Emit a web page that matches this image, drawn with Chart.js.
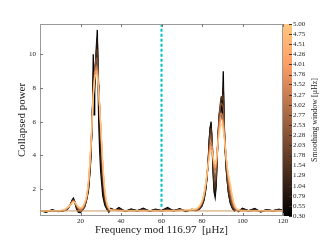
<!DOCTYPE html>
<html><head><meta charset="utf-8">
<script src="https://cdn.jsdelivr.net/npm/chart.js@4"></script>
<style>html,body{margin:0;padding:0;background:#fff}canvas{display:block}</style>
</head><body>
<canvas id="c" width="320" height="240"></canvas>
<script>
// Frequency mod 116.97 (µHz) sample positions
const freq = [
  0, 3, 6, 9, 12,
  13.5, 15, 16, 16.5, 17,
  18, 19, 20, 21, 22,
  23, 24, 25, 25.5, 26,
  26.3, 26.7, 27, 27.5, 28,
  28.3, 28.7, 29, 29.5, 30,
  31, 32, 33, 34, 35,
  37, 39, 42, 45, 48,
  51, 54, 57, 60, 63,
  66, 69, 72, 75, 77,
  78, 79, 80, 81, 82,
  83, 83.5, 84, 84.5, 85,
  85.5, 86, 86.5, 87, 87.5,
  88, 88.5, 89, 89.5, 90,
  90.5, 91, 92, 93, 94,
  95, 96, 97, 98, 100,
  103, 106, 109, 112, 115,
  118, 120
];
// Smoothing windows (µHz) of the plotted curves
const windows = [0.30, 0.79, 1.54, 2.28, 3.27, 4.01, 5.00];
const power030 = [
  0.72, 0.62, 0.78, 0.66, 0.74,
  0.80, 1.05, 1.38, 1.46, 1.30,
  0.85, 0.62, 0.60, 0.76, 0.92,
  1.35, 2.0, 3.6, 5.2, 7.0,
  10.0, 6.4, 7.8, 9.0, 10.6,
  11.45, 8.2, 6.0, 4.2, 3.0,
  1.6, 1.05, 0.8, 0.62, 0.85,
  0.74, 0.9, 0.66, 0.82, 0.7,
  0.86, 0.68, 0.8, 0.72, 0.9,
  0.7, 0.84, 0.66, 0.8, 0.72,
  0.76, 0.85, 1.0, 1.35, 2.1,
  3.5, 4.8, 5.6, 6.0, 4.5,
  2.9, 1.8, 1.5, 2.2, 3.9,
  5.2, 6.3, 6.6, 7.3, 6.1,
  9.0, 5.4, 3.1, 1.8, 1.15,
  0.85, 0.7, 0.82, 0.66, 0.86,
  0.7, 0.84, 0.64, 0.78, 0.7,
  0.8, 0.72
];
const power079 = [
  0.7, 0.66, 0.74, 0.68, 0.72,
  0.82, 1.08, 1.34, 1.40, 1.30,
  0.92, 0.68, 0.64, 0.78, 0.96,
  1.4, 2.1, 3.8, 5.1, 7.2,
  9.0, 7.8, 8.6, 9.6, 10.8,
  11.0, 9.0, 7.2, 5.4, 4.0,
  2.1, 1.2, 0.88, 0.68, 0.82,
  0.74, 0.84, 0.7, 0.78, 0.72,
  0.82, 0.7, 0.78, 0.72, 0.84,
  0.72, 0.8, 0.7, 0.78, 0.72,
  0.78, 0.88, 1.04, 1.4, 2.15,
  3.5, 4.7, 5.6, 5.8, 4.7,
  3.2, 2.0, 1.7, 2.4, 3.9,
  5.2, 6.4, 6.8, 7.4, 6.9,
  8.2, 5.6, 3.2, 1.9, 1.2,
  0.9, 0.74, 0.8, 0.7, 0.82,
  0.72, 0.8, 0.68, 0.76, 0.72,
  0.78, 0.72
];
const power154 = [
  0.71, 0.69, 0.72, 0.7, 0.73,
  0.84, 1.08, 1.3, 1.36, 1.28,
  0.98, 0.74, 0.68, 0.78, 0.98,
  1.4, 2.2, 3.9, 5.2, 7.0,
  8.3, 8.3, 9.0, 9.7, 10.3,
  10.2, 9.2, 7.9, 6.4, 5.0,
  2.6, 1.4, 0.95, 0.75, 0.8,
  0.74, 0.78, 0.72, 0.75, 0.72,
  0.78, 0.72, 0.75, 0.72, 0.78,
  0.73, 0.76, 0.72, 0.76, 0.74,
  0.8, 0.9, 1.08, 1.45, 2.2,
  3.5, 4.5, 5.4, 5.6, 4.8,
  3.6, 2.4, 2.1, 2.7, 4.0,
  5.4, 6.4, 7.0, 7.5, 7.3,
  7.6, 5.8, 3.4, 2.0, 1.35,
  0.95, 0.78, 0.78, 0.7, 0.78,
  0.72, 0.75, 0.7, 0.74, 0.72,
  0.75, 0.72
];
const power228 = [
  0.71, 0.7, 0.71, 0.7, 0.74,
  0.86, 1.07, 1.27, 1.32, 1.27,
  1.02, 0.8, 0.72, 0.8, 1.02,
  1.45, 2.3, 4.0, 5.3, 6.8,
  7.8, 8.4, 9.0, 9.5, 9.8,
  9.6, 8.9, 8.0, 6.8, 5.4,
  3.0, 1.6, 1.0, 0.78, 0.76,
  0.73, 0.75, 0.72, 0.73, 0.72,
  0.75, 0.72, 0.73, 0.72, 0.75,
  0.73, 0.74, 0.72, 0.75, 0.76,
  0.82, 0.94, 1.15, 1.55, 2.3,
  3.5, 4.3, 5.0, 5.2, 4.7,
  3.8, 2.9, 2.6, 3.0, 4.1,
  5.3, 6.2, 6.8, 7.1, 7.0,
  6.8, 5.6, 3.6, 2.3, 1.6,
  1.1, 0.85, 0.78, 0.72, 0.74,
  0.72, 0.73, 0.71, 0.72, 0.72,
  0.73, 0.72
];
const power327 = [
  0.71, 0.71, 0.71, 0.71, 0.75,
  0.88, 1.06, 1.24, 1.28, 1.25,
  1.06, 0.86, 0.78, 0.85, 1.1,
  1.5, 2.4, 4.2, 5.4, 6.7,
  7.6, 8.3, 8.8, 9.2, 9.3,
  9.1, 8.6, 7.9, 6.8, 5.6,
  3.3, 1.8, 1.1, 0.82, 0.75,
  0.73, 0.73, 0.72, 0.72, 0.72,
  0.73, 0.72, 0.72, 0.72, 0.73,
  0.72, 0.73, 0.73, 0.76, 0.78,
  0.85, 0.98, 1.22, 1.65, 2.4,
  3.5, 4.1, 4.6, 4.8, 4.5,
  3.9, 3.3, 3.1, 3.4, 4.2,
  5.1, 5.8, 6.3, 6.5, 6.4,
  6.0, 5.3, 3.8, 2.6, 1.9,
  1.3, 0.95, 0.8, 0.74, 0.72,
  0.72, 0.72, 0.72, 0.72, 0.72,
  0.72, 0.72
];
const power401 = [
  0.71, 0.71, 0.72, 0.71, 0.76,
  0.89, 1.05, 1.21, 1.25, 1.23,
  1.08, 0.9, 0.84, 0.9, 1.15,
  1.55, 2.5, 4.3, 5.45, 6.7,
  7.5, 8.2, 8.65, 9.0, 9.05,
  8.85, 8.4, 7.8, 6.8, 5.7,
  3.45, 1.9, 1.15, 0.85, 0.75,
  0.73, 0.72, 0.72, 0.72, 0.72,
  0.72, 0.72, 0.72, 0.72, 0.72,
  0.72, 0.73, 0.74, 0.78, 0.8,
  0.88, 1.02, 1.26, 1.7, 2.45,
  3.45, 3.95, 4.35, 4.55, 4.35,
  3.9, 3.45, 3.3, 3.55, 4.2,
  4.95, 5.55, 6.0, 6.15, 6.1,
  5.75, 5.15, 3.8, 2.75, 2.1,
  1.45, 1.02, 0.82, 0.75, 0.72,
  0.72, 0.72, 0.72, 0.72, 0.72,
  0.72, 0.72
];
const power500 = [
  0.71, 0.71, 0.72, 0.72, 0.78,
  0.9, 1.05, 1.19, 1.24, 1.22,
  1.1, 0.95, 0.9, 0.95, 1.2,
  1.6, 2.6, 4.4, 5.5, 6.7,
  7.4, 8.1, 8.5, 8.8, 8.8,
  8.6, 8.2, 7.7, 6.8, 5.8,
  3.6, 2.0, 1.2, 0.88, 0.76,
  0.74, 0.72, 0.72, 0.72, 0.72,
  0.72, 0.72, 0.72, 0.72, 0.72,
  0.72, 0.73, 0.75, 0.8, 0.82,
  0.9, 1.05, 1.3, 1.75, 2.5,
  3.4, 3.8, 4.15, 4.3, 4.2,
  3.9, 3.6, 3.5, 3.7, 4.2,
  4.8, 5.3, 5.7, 5.85, 5.8,
  5.5, 5.0, 3.8, 2.9, 2.3,
  1.6, 1.1, 0.85, 0.76, 0.72,
  0.72, 0.72, 0.72, 0.72, 0.72,
  0.72, 0.72
];
const curves = [power030, power079, power154, power228, power327, power401, power500];
const noiseLevel = 0.70;
const markerFreq = 60;
const markerRange = [0.95, 11.8];
const xTicks = [20, 40, 60, 80, 100, 120];
const yTicks = [2, 4, 6, 8, 10];
const cbTicks = [0.30, 0.55, 0.79, 1.04, 1.29, 1.54, 1.78, 2.03, 2.28, 2.53,
                 2.77, 3.02, 3.27, 3.52, 3.76, 4.01, 4.26, 4.51, 4.75, 5.00];
const wMin = 0.30, wMax = 5.00;

function copper(w) {
  const t = (w - wMin) / (wMax - wMin);
  const r = Math.min(1, 1.25 * t), g = 0.7812 * t, b = 0.4975 * t;
  return `rgb(${Math.round(r*255)},${Math.round(g*255)},${Math.round(b*255)})`;
}

const datasets = [];
curves.forEach((arr, i) => {
  datasets.push({
    data: freq.map((f, k) => ({x: f, y: arr[k]})),
    borderColor: copper(windows[i]),
    borderWidth: 1.3,
    pointRadius: 0,
    tension: i === 0 ? 0 : 0.4,
    cubicInterpolationMode: i === 0 ? 'default' : 'monotone',
    order: curves.length - i
  });
});
datasets.push({
  data: [{x: 0, y: noiseLevel}, {x: 120, y: noiseLevel}],
  borderColor: 'rgb(205,150,95)', borderWidth: 1, pointRadius: 0, order: -1
});
datasets.push({
  data: [{x: markerFreq, y: markerRange[0]}, {x: markerFreq, y: markerRange[1]}],
  borderColor: 'rgb(0,191,191)', borderWidth: 2, borderDash: [3, 2], pointRadius: 0, order: 20
});

const serif = "'Liberation Serif', 'DejaVu Serif', serif";
const TXT = '#222';

const framePlugin = {
  id: 'frame',
  afterDraw(chart) {
    const {ctx, chartArea: {left, right, top, bottom}, scales} = chart;
    const cb = scales.cb;
    ctx.save();
    const barW = 9;
    const g = ctx.createLinearGradient(0, bottom, 0, top);
    g.addColorStop(0, 'rgb(0,0,0)');
    g.addColorStop(0.8, 'rgb(255,159,102)');
    g.addColorStop(1, 'rgb(255,199,127)');
    ctx.fillStyle = g;
    ctx.fillRect(cb.left, top, barW, bottom - top);
    ctx.strokeStyle = '#333';
    ctx.lineWidth = 1;
    cb.ticks.forEach(t => {
      const y = Math.round(cb.getPixelForValue(t.value)) + 0.5;
      ctx.beginPath(); ctx.moveTo(cb.left + barW, y); ctx.lineTo(cb.left + barW - 3, y); ctx.stroke();
    });
    ctx.strokeStyle = '#9a9a9a';
    ctx.strokeRect(left + 0.5, top + 0.5, right - left - 1, bottom - top - 1);
    ctx.strokeStyle = '#777';
    scales.x.ticks.forEach(t => {
      const x = Math.round(scales.x.getPixelForValue(t.value)) + 0.5;
      ctx.beginPath(); ctx.moveTo(x, bottom); ctx.lineTo(x, bottom - 3); ctx.stroke();
      ctx.beginPath(); ctx.moveTo(x, top); ctx.lineTo(x, top + 3); ctx.stroke();
    });
    scales.y.ticks.forEach(t => {
      const y = Math.round(scales.y.getPixelForValue(t.value)) + 0.5;
      ctx.beginPath(); ctx.moveTo(left, y); ctx.lineTo(left + 3, y); ctx.stroke();
    });
    ctx.fillStyle = TXT;
    ctx.font = "8px " + serif;
    ctx.textAlign = 'center';
    ctx.textBaseline = 'middle';
    ctx.translate(315, (top + bottom) / 2);
    ctx.rotate(-Math.PI / 2);
    ctx.fillText('Smoothing window [μHz]', 0, 0);
    ctx.restore();
  }
};

new Chart(document.getElementById('c'), {
  type: 'line',
  data: {datasets},
  options: {
    responsive: false,
    animation: false,
    devicePixelRatio: 1,
    layout: {padding: {top: 24, left: 0, right: 0, bottom: 0}},
    plugins: {legend: {display: false}, tooltip: {enabled: false}},
    scales: {
      x: {
        type: 'linear', min: 0, max: 120,
        grid: {display: false, drawTicks: false},
        border: {display: false},
        afterBuildTicks: s => { s.ticks = xTicks.map(v => ({value: v})); },
        afterFit: s => { s.height = 24; },
        ticks: {font: {family: serif, size: 7}, color: TXT, padding: 1, maxRotation: 0, autoSkip: false},
        title: {display: true, text: 'Frequency mod 116.97  [μHz]', font: {family: serif, size: 11}, color: TXT, padding: {top: 0, bottom: 3}}
      },
      y: {
        type: 'linear', min: 0.4, max: 11.8,
        grid: {display: false, drawTicks: false},
        border: {display: false},
        afterBuildTicks: s => { s.ticks = yTicks.map(v => ({value: v})); },
        afterFit: s => { s.width = 40; },
        ticks: {font: {family: serif, size: 7}, color: TXT, padding: 4, autoSkip: false},
        title: {display: true, text: 'Collapsed power', font: {family: serif, size: 11}, color: TXT, padding: {top: 16, bottom: 0}}
      },
      cb: {
        type: 'linear', position: 'right', min: wMin, max: wMax,
        grid: {display: false, drawTicks: false},
        border: {display: false},
        afterBuildTicks: s => { s.ticks = cbTicks.map(v => ({value: v})); },
        afterFit: s => { s.width = 37; },
        ticks: {font: {family: serif, size: 7}, color: TXT, padding: 10, autoSkip: false,
                callback: v => Number(v).toFixed(2)}
      }
    }
  },
  plugins: [framePlugin]
});
</script>
</body></html>
